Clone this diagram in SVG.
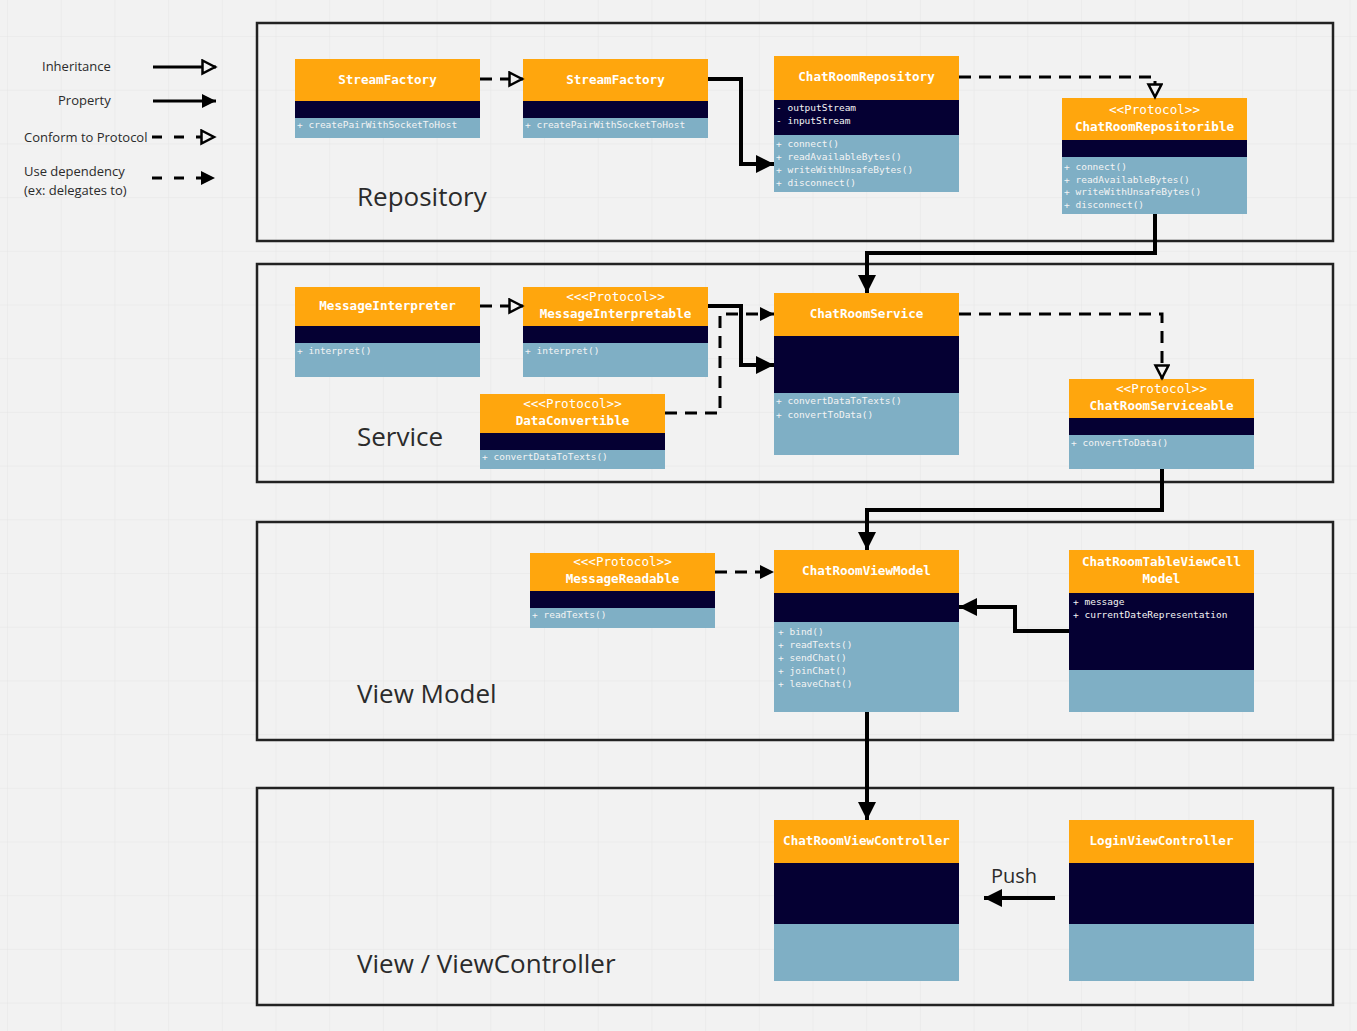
<svg xmlns="http://www.w3.org/2000/svg" width="1357" height="1031" viewBox="0 0 1357 1031">
<style>
.bg{fill:#f2f2f2}
.frame{fill:none;stroke:#222;stroke-width:2.5}
.sec{font-family:"Open Sans","Noto Sans",sans-serif;font-size:26px;fill:#2b2b2b}
.leg{font-family:"Open Sans","Noto Sans",sans-serif;font-size:13px;fill:#2b2b2b}
.hd{fill:#ffa60d}
.dk{fill:#050033}
.lt{fill:#7fafc5}
.ttl{font-family:"DejaVu Sans Mono","Liberation Mono",monospace;font-size:12.6px;font-weight:bold;fill:#fff;text-anchor:middle}
.stp{font-family:"DejaVu Sans Mono","Liberation Mono",monospace;font-size:12.6px;fill:#fff;text-anchor:middle}
.mb{font-family:"DejaVu Sans Mono","Liberation Mono",monospace;font-size:9.5px;fill:#f4f4f4}
.solid{fill:none;stroke:#000;stroke-width:4}
.dash{fill:none;stroke:#000;stroke-width:3;stroke-dasharray:12 8}
.thin{fill:none;stroke:#000;stroke-width:3}
.push{font-family:"Open Sans","Noto Sans",sans-serif;font-size:20px;fill:#2b2b2b}
</style>
<defs>
<pattern id="grid" width="53.7" height="53.7" x="7" y="36" patternUnits="userSpaceOnUse">
<path d="M0,0 H53.7 M0,0 V53.7" fill="none" stroke="#e5e5e5" stroke-width="1"/>
</pattern>
<marker id="big" markerUnits="userSpaceOnUse" markerWidth="20" markerHeight="20" refX="18" refY="9" orient="auto">
<path d="M0,0 L18,9 L0,18 z" fill="#000"/>
</marker>
<marker id="small" markerUnits="userSpaceOnUse" markerWidth="16" markerHeight="16" refX="14" refY="7" orient="auto">
<path d="M0,0 L14,7 L0,14 z" fill="#000"/>
</marker>
<marker id="hollow" markerUnits="userSpaceOnUse" markerWidth="18" markerHeight="18" refX="15" refY="8" orient="auto">
<path d="M1.5,1.5 L14,8 L1.5,14.5 z" fill="#f2f2f2" stroke="#000" stroke-width="2.5"/>
</marker>
</defs>
<rect class="bg" width="1357" height="1031"/>
<rect width="1357" height="1031" fill="url(#grid)"/>

<g id="legend">
<text class="leg" x="42" y="71">Inheritance</text>
<text class="leg" x="58" y="105">Property</text>
<text class="leg" x="24" y="142">Conform to Protocol</text>
<text class="leg" x="24" y="176">Use dependency</text>
<text class="leg" x="24" y="195">(ex: delegates to)</text>
<line class="thin" x1="153" y1="67" x2="216" y2="67" marker-end="url(#hollow)"/>
<line class="thin" x1="153" y1="101" x2="216" y2="101" marker-end="url(#small)"/>
<line class="thin" x1="152" y1="137" x2="215" y2="137" stroke-dasharray="10 12" marker-end="url(#hollow)"/>
<line class="thin" x1="152" y1="178" x2="215" y2="178" stroke-dasharray="10 12" marker-end="url(#small)"/>
</g>

<g id="sections">
<rect class="frame" x="257" y="23" width="1076" height="218"/>
<text class="sec" x="357" y="206">Repository</text>
<rect class="frame" x="257" y="264" width="1076" height="218"/>
<text class="sec" x="357" y="446">Service</text>
<rect class="frame" x="257" y="522" width="1076" height="218"/>
<text class="sec" x="357" y="703">View Model</text>
<rect class="frame" x="257" y="788" width="1076" height="217"/>
<text class="sec" x="357" y="973">View / ViewController</text>
</g>

<g id="StreamFactory1">
<rect class="hd" x="295" y="59" width="185" height="42"/>
<rect class="dk" x="295" y="101" width="185" height="17"/>
<rect class="lt" x="295" y="118" width="185" height="20"/>
<text class="ttl" x="387.5" y="84">StreamFactory</text>
<text class="mb" x="297" y="128">+ createPairWithSocketToHost</text>
</g>
<g id="StreamFactory2">
<rect class="hd" x="523" y="59" width="185" height="42"/>
<rect class="dk" x="523" y="101" width="185" height="17"/>
<rect class="lt" x="523" y="118" width="185" height="20"/>
<text class="ttl" x="615.5" y="84">StreamFactory</text>
<text class="mb" x="525" y="128">+ createPairWithSocketToHost</text>
</g>
<g id="ChatRoomRepository">
<rect class="hd" x="774" y="56" width="185" height="44"/>
<rect class="dk" x="774" y="100" width="185" height="35"/>
<rect class="lt" x="774" y="135" width="185" height="57"/>
<text class="ttl" x="866.5" y="81">ChatRoomRepository</text>
<text class="mb" x="776" y="111">- outputStream</text>
<text class="mb" x="776" y="124">- inputStream</text>
<text class="mb" x="776" y="147">+ connect()</text>
<text class="mb" x="776" y="160">+ readAvailableBytes()</text>
<text class="mb" x="776" y="173">+ writeWithUnsafeBytes()</text>
<text class="mb" x="776" y="186">+ disconnect()</text>
</g>
<g id="ChatRoomRepositorible">
<rect class="hd" x="1062" y="98" width="185" height="42"/>
<rect class="dk" x="1062" y="140" width="185" height="17"/>
<rect class="lt" x="1062" y="157" width="185" height="57"/>
<text class="stp" x="1154.5" y="114">&lt;&lt;Protocol&gt;&gt;</text>
<text class="ttl" x="1154.5" y="131">ChatRoomRepositorible</text>
<text class="mb" x="1064" y="170">+ connect()</text>
<text class="mb" x="1064" y="183">+ readAvailableBytes()</text>
<text class="mb" x="1064" y="195">+ writeWithUnsafeBytes()</text>
<text class="mb" x="1064" y="208">+ disconnect()</text>
</g>

<g id="MessageInterpreter">
<rect class="hd" x="295" y="287" width="185" height="39"/>
<rect class="dk" x="295" y="326" width="185" height="17"/>
<rect class="lt" x="295" y="343" width="185" height="34"/>
<text class="ttl" x="387.5" y="310">MessageInterpreter</text>
<text class="mb" x="297" y="354">+ interpret()</text>
</g>
<g id="MessageInterpretable">
<rect class="hd" x="523" y="287" width="185" height="39"/>
<rect class="dk" x="523" y="326" width="185" height="17"/>
<rect class="lt" x="523" y="343" width="185" height="34"/>
<text class="stp" x="615.5" y="301">&lt;&lt;&lt;Protocol&gt;&gt;</text>
<text class="ttl" x="615.5" y="318">MessageInterpretable</text>
<text class="mb" x="525" y="354">+ interpret()</text>
</g>
<g id="DataConvertible">
<rect class="hd" x="480" y="394" width="185" height="39"/>
<rect class="dk" x="480" y="433" width="185" height="17"/>
<rect class="lt" x="480" y="450" width="185" height="19"/>
<text class="stp" x="572.5" y="408">&lt;&lt;&lt;Protocol&gt;&gt;</text>
<text class="ttl" x="572.5" y="425">DataConvertible</text>
<text class="mb" x="482" y="460">+ convertDataToTexts()</text>
</g>
<g id="ChatRoomService">
<rect class="hd" x="774" y="293" width="185" height="43"/>
<rect class="dk" x="774" y="336" width="185" height="57"/>
<rect class="lt" x="774" y="393" width="185" height="62"/>
<text class="ttl" x="866.5" y="318">ChatRoomService</text>
<text class="mb" x="776" y="404">+ convertDataToTexts()</text>
<text class="mb" x="776" y="418">+ convertToData()</text>
</g>
<g id="ChatRoomServiceable">
<rect class="hd" x="1069" y="379" width="185" height="39"/>
<rect class="dk" x="1069" y="418" width="185" height="17"/>
<rect class="lt" x="1069" y="435" width="185" height="34"/>
<text class="stp" x="1161.5" y="393">&lt;&lt;Protocol&gt;&gt;</text>
<text class="ttl" x="1161.5" y="410">ChatRoomServiceable</text>
<text class="mb" x="1071" y="446">+ convertToData()</text>
</g>

<g id="MessageReadable">
<rect class="hd" x="530" y="553" width="185" height="38"/>
<rect class="dk" x="530" y="591" width="185" height="17"/>
<rect class="lt" x="530" y="608" width="185" height="20"/>
<text class="stp" x="622.5" y="566">&lt;&lt;&lt;Protocol&gt;&gt;</text>
<text class="ttl" x="622.5" y="583">MessageReadable</text>
<text class="mb" x="532" y="618">+ readTexts()</text>
</g>
<g id="ChatRoomViewModel">
<rect class="hd" x="774" y="550" width="185" height="43"/>
<rect class="dk" x="774" y="593" width="185" height="29"/>
<rect class="lt" x="774" y="622" width="185" height="90"/>
<text class="ttl" x="866.5" y="575">ChatRoomViewModel</text>
<text class="mb" x="778" y="635">+ bind()</text>
<text class="mb" x="778" y="648">+ readTexts()</text>
<text class="mb" x="778" y="661">+ sendChat()</text>
<text class="mb" x="778" y="674">+ joinChat()</text>
<text class="mb" x="778" y="687">+ leaveChat()</text>
</g>
<g id="ChatRoomTableViewCellModel">
<rect class="hd" x="1069" y="550" width="185" height="43"/>
<rect class="dk" x="1069" y="593" width="185" height="77"/>
<rect class="lt" x="1069" y="670" width="185" height="42"/>
<text class="ttl" x="1161.5" y="566">ChatRoomTableViewCell</text>
<text class="ttl" x="1161.5" y="583">Model</text>
<text class="mb" x="1073" y="605">+ message</text>
<text class="mb" x="1073" y="618">+ currentDateRepresentation</text>
</g>

<g id="ChatRoomViewController">
<rect class="hd" x="774" y="820" width="185" height="43"/>
<rect class="dk" x="774" y="863" width="185" height="61"/>
<rect class="lt" x="774" y="924" width="185" height="57"/>
<text class="ttl" x="866.5" y="845">ChatRoomViewController</text>
</g>
<g id="LoginViewController">
<rect class="hd" x="1069" y="820" width="185" height="43"/>
<rect class="dk" x="1069" y="863" width="185" height="61"/>
<rect class="lt" x="1069" y="924" width="185" height="57"/>
<text class="ttl" x="1161.5" y="845">LoginViewController</text>
</g>

<g id="connectors">
<line class="dash" x1="480" y1="79" x2="523" y2="79" marker-end="url(#hollow)"/>
<path class="solid" d="M708,79 H741 V164 H774" marker-end="url(#big)"/>
<path class="dash" d="M959,77 H1155 V98" marker-end="url(#hollow)"/>
<path class="solid" d="M1155,214 V253 H867 V293" marker-end="url(#big)"/>
<line class="dash" x1="480" y1="306" x2="523" y2="306" marker-end="url(#hollow)"/>
<path class="solid" d="M708,306 H741 V365 H774" marker-end="url(#big)"/>
<path class="dash" d="M665,413 H720 V314 H774" marker-end="url(#small)"/>
<path class="dash" d="M959,314 H1162 V379" marker-end="url(#hollow)"/>
<path class="solid" d="M1162,469 V510 H867 V550" marker-end="url(#big)"/>
<line class="dash" x1="715" y1="572" x2="774" y2="572" marker-end="url(#small)"/>
<path class="solid" d="M1069,631 H1015 V607 H959" marker-end="url(#big)"/>
<line class="solid" x1="867" y1="712" x2="867" y2="820" marker-end="url(#big)"/>
<line class="solid" x1="1055" y1="898" x2="984" y2="898" marker-end="url(#big)"/>
<text class="push" x="991" y="883">Push</text>
</g>
</svg>
